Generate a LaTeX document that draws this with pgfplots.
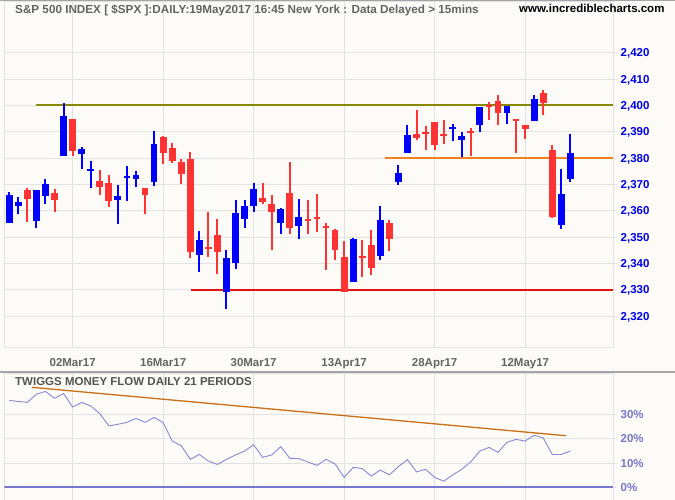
\documentclass[border=0pt]{standalone}
\usepackage{pgfplots}
\pgfplotsset{compat=1.18}
\usepackage{pgfplotstable}
\usepackage{fontspec}
\setmainfont{Liberation Sans}

\definecolor{bgc}{RGB}{252,251,248}
\definecolor{gridc}{RGB}{226,226,226}
\definecolor{upcol}{RGB}{0,0,255}
\definecolor{dncol}{RGB}{255,51,51}
\definecolor{ytc}{RGB}{0,0,230}
\definecolor{xtc}{RGB}{100,100,100}
\definecolor{hdrc}{RGB}{100,100,100}
\definecolor{ttlc}{RGB}{85,85,85}
\definecolor{tmfc}{RGB}{136,136,212}
\definecolor{trendc}{RGB}{204,110,20}
\definecolor{pctc}{RGB}{118,118,198}
\definecolor{sepc}{RGB}{165,165,165}
\definecolor{olivec}{RGB}{135,135,0}
\definecolor{orangec}{RGB}{240,128,32}
\definecolor{redlc}{RGB}{228,18,18}
\definecolor{zeroc}{RGB}{118,118,205}

% up candles (close > open)
\pgfplotstableread{
i O H L C
0 2355.4 2367.0 2355.4 2365.8
1 2361.8 2365.2 2358.7 2363.2
3 2356.2 2367.7 2353.5 2367.7
4 2365.6 2371.9 2362.4 2370.0
6 2380.6 2400.8 2380.6 2396.0
8 2381.4 2384.3 2375.8 2383.5
9 2375.3 2379.0 2368.6 2375.8
12 2364.1 2369.6 2355.0 2365.5
13 2372.6 2377.1 2363.7 2373.1
14 2372.0 2374.9 2369.0 2373.7
16 2370.9 2390.3 2369.3 2385.4
21 2343.3 2352.2 2336.9 2348.8
24 2329.3 2345.0 2322.5 2342.0
25 2340.3 2364.2 2338.0 2359.0
26 2356.8 2363.9 2353.4 2361.6
27 2361.7 2370.7 2359.5 2368.4
30 2355.3 2360.9 2351.2 2360.5
32 2354.1 2364.5 2349.3 2357.8
38 2333.0 2349.6 2332.8 2349.2
41 2342.8 2361.6 2341.4 2356.3
43 2370.8 2377.5 2369.6 2374.5
44 2381.8 2392.6 2381.8 2388.8
49 2391.0 2393.0 2386.3 2391.6
50 2387.0 2389.9 2380.3 2388.3
52 2392.7 2399.4 2389.7 2399.4
55 2397.2 2399.7 2393.1 2399.7
58 2394.2 2403.8 2394.2 2402.4
61 2354.7 2376.0 2353.1 2366.2
62 2372.0 2389.2 2370.8 2382.1
}\uptab

% down candles (close < open)
\pgfplotstableread{
i O H L C
2 2367.8 2368.6 2355.8 2364.4
5 2366.6 2368.1 2359.5 2364.1
7 2394.8 2394.8 2380.6 2382.5
10 2371.1 2375.6 2365.8 2369.0
11 2370.4 2373.4 2361.4 2363.7
15 2368.8 2368.8 2358.8 2366.0
17 2388.1 2388.4 2377.6 2381.8
18 2383.9 2385.9 2378.0 2378.8
19 2378.6 2379.6 2370.1 2373.9
20 2379.8 2382.4 2342.2 2344.5
22 2346.3 2359.5 2342.5 2345.7
23 2350.7 2356.7 2336.1 2344.4
28 2365.0 2370.7 2362.6 2363.2
29 2362.7 2366.1 2345.0 2359.5
31 2366.9 2378.6 2351.2 2353.4
33 2357.0 2364.2 2351.2 2356.1
34 2357.6 2366.5 2351.9 2357.0
35 2354.2 2355.5 2337.6 2353.6
36 2352.6 2352.9 2341.4 2345.2
37 2342.4 2348.4 2329.3 2329.3
39 2342.9 2348.8 2335.0 2342.3
40 2346.9 2352.7 2335.4 2338.4
42 2355.2 2356.3 2344.8 2349.3
45 2389.2 2398.2 2387.0 2387.8
46 2389.9 2392.2 2383.1 2389.2
47 2393.7 2393.7 2382.9 2384.8
48 2389.1 2394.5 2385.3 2388.5
51 2390.1 2391.4 2380.6 2389.5
53 2400.1 2401.3 2394.3 2399.6
54 2401.6 2403.9 2392.7 2397.2
56 2394.8 2394.8 2382.1 2394.2
57 2392.6 2392.6 2387.4 2391.2
59 2404.7 2405.8 2396.5 2401.0
60 2383.1 2385.0 2357.2 2357.6
}\dntab

% horizontal reference lines
\pgfplotstableread{
x y
2.95 2400
66.71 2400
}\olivetab
\pgfplotstableread{
x y
41.5 2380
66.71 2380
}\orangetab
\pgfplotstableread{
x y
20.1 2330
66.71 2330
}\redtab

% Twiggs money flow (percent)
\pgfplotstableread{
i v
0 35.7
1 35.3
2 34.9
3 38.3
4 39.4
5 36.6
6 38.5
7 33.0
8 34.9
9 33.4
10 30.3
11 25.2
12 25.9
13 26.7
14 28.3
15 26.7
16 28.7
17 26.6
18 19.0
19 17.1
20 11.5
21 13.5
22 10.8
23 9.4
24 11.5
25 13.3
26 14.9
27 17.5
28 12.3
29 13.3
30 16.7
31 11.9
32 11.8
33 10.4
34 9.0
35 11.5
36 9.6
37 4.1
38 8.2
39 7.7
40 4.6
41 7.1
42 5.1
43 8.5
44 11.4
45 6.3
46 7.4
47 4.1
48 2.5
49 5.1
50 7.4
51 10.5
52 14.9
53 16.4
54 14.4
55 18.5
56 19.7
57 19.0
58 21.4
59 20.3
60 13.5
61 13.5
62 14.9
}\tmftab

\pgfplotsset{
  candlewick/.style={draw=none, mark=none, forget plot,
    error bars/.cd, y dir=both, y explicit, error mark=none,
    error bar style={draw=#1, line width=2pt}},
  candlebody/.style={draw=none, mark=none, forget plot,
    error bars/.cd, y dir=both, y explicit, error mark=none,
    error bar style={draw=#1, line width=6.8pt}},
  hline/.style={draw=#1, mark=none, line width=1.6pt, forget plot},
  panel/.style={scale only axis, width=608.7pt,
    xmin=-0.552, xmax=66.71,
    xtick={7,17,27,37,47,57},
    ymajorgrids, xmajorgrids,
    grid style={draw=gridc, line width=0.8pt},
    axis line style={draw=gridc, line width=0.8pt},
    tick align=outside, major tick length=4pt,
    xtick style={draw=none},
    ytick style={draw=gridc, line width=0.8pt},
    ytick pos=right, yticklabel pos=right,
    tick label style={font=\fontsize{11.5}{13}\selectfont\bfseries},
    yticklabel style={anchor=base west, inner sep=0pt, xshift=3.5pt, yshift=-4.1pt},
  },
}

\begin{document}
\begin{tikzpicture}
\path[use as bounding box, fill=bgc] (0,0) rectangle (675pt,500pt);

% ---------- price panel ----------
\begin{axis}[panel, height=346pt, at={(4.3pt,153pt)}, anchor=south west,
  ymin=2308.23, ymax=2439.64,
  xticklabels={02Mar17,16Mar17,30Mar17,13Apr17,28Apr17,12May17},
  xticklabel style={anchor=base, inner sep=0pt, yshift=-15.5pt, text=xtc},
  ytick={2320,2330,...,2420},
  yticklabels={{2,320},{2,330},{2,340},{2,350},{2,360},{2,370},{2,380},{2,390},{2,400},{2,410},{2,420}},
  yticklabel style={text=ytc},
]
\addplot[hline=orangec] table[x=x, y=y] {\orangetab};
\addplot[hline=olivec, line width=2.1pt] table[x=x, y=y] {\olivetab};
\addplot[hline=redlc, line width=2.1pt] table[x=x, y=y] {\redtab};

\addplot[candlewick=upcol] table[x=i, y expr={(\thisrow{H}+\thisrow{L})/2},
  y error plus expr={(\thisrow{H}-\thisrow{L})/2},
  y error minus expr={(\thisrow{H}-\thisrow{L})/2}] {\uptab};
\addplot[candlebody=upcol] table[x=i, y expr={(\thisrow{O}+\thisrow{C})/2},
  y error plus expr={abs(\thisrow{C}-\thisrow{O})/2},
  y error minus expr={abs(\thisrow{C}-\thisrow{O})/2}] {\uptab};
\addplot[candlewick=dncol] table[x=i, y expr={(\thisrow{H}+\thisrow{L})/2},
  y error plus expr={(\thisrow{H}-\thisrow{L})/2},
  y error minus expr={(\thisrow{H}-\thisrow{L})/2}] {\dntab};
\addplot[candlebody=dncol] table[x=i, y expr={(\thisrow{O}+\thisrow{C})/2},
  y error plus expr={abs(\thisrow{C}-\thisrow{O})/2},
  y error minus expr={abs(\thisrow{C}-\thisrow{O})/2}] {\dntab};
\end{axis}

% ---------- Twiggs money flow panel ----------
\begin{axis}[panel, height=127pt, at={(4.3pt,0pt)}, anchor=south west,
  ymin=-5.22, ymax=46.98,
  xticklabels={},
  ytick={0,10,20,30},
  yticklabels={0\%,10\%,20\%,30\%},
  yticklabel style={text=pctc},
]
\addplot[draw=trendc, mark=none, line width=1.3pt, forget plot] coordinates {(2.47,41.1) (61.5,21.2)};
\addplot[draw=tmfc, mark=none, line width=0.9pt, forget plot] table[x=i, y=v] {\tmftab};
\addplot[hline=zeroc] coordinates {(-0.552,0) (66.71,0)};
\end{axis}

% separators and titles
\draw[sepc, line width=1pt] (0,499.5pt) -- (675pt,499.5pt);
\draw[sepc, line width=2pt] (0,128pt) -- (675pt,128pt);
\node[anchor=base west, inner sep=0pt, text=hdrc, font=\fontsize{11.7}{13}\selectfont\bfseries]
  at (15pt,486.5pt) {S\&P 500 INDEX [ \$SPX ]:DAILY:19May2017 16:45 New York : Data Delayed > 15mins};
\node[anchor=base west, inner sep=0pt, text=black, font=\fontsize{11.5}{13}\selectfont\bfseries]
  at (519pt,487pt) {www.incrediblecharts.com};
\node[anchor=base west, inner sep=0pt, text=ttlc, font=\fontsize{11.5}{13}\selectfont\bfseries]
  at (15pt,114.3pt) {TWIGGS MONEY FLOW DAILY 21 PERIODS};
\end{tikzpicture}
\end{document}
